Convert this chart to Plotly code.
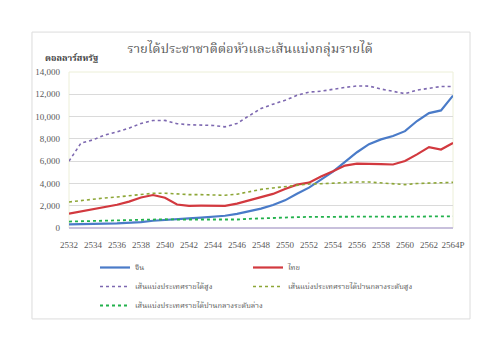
import plotly.graph_objects as go

years = list(range(2532, 2565))
china = [330, 330, 350, 390, 410, 460, 530, 650, 740, 800, 860, 940, 1000, 1100, 1270, 1500,
         1740, 2060, 2480, 3070, 3620, 4340, 5060, 5940, 6800, 7520, 7950, 8250, 8690, 9600,
         10310, 10550, 11880]
thai = [1280, 1490, 1650, 1850, 2090, 2370, 2740, 2960, 2710, 2110, 1990, 2000, 1970, 1990, 2190,
        2500, 2770, 3060, 3500, 3890, 4070, 4630, 5090, 5600, 5780, 5790, 5740, 5700, 6010, 6610,
        7260, 7040, 7640]
high = [6000, 7620, 7910, 8355, 8625, 8955, 9385, 9645, 9655, 9360, 9265, 9265, 9205, 9075, 9385,
        10065, 10725, 11115, 11455, 11905, 12195, 12275, 12475, 12615, 12745, 12735, 12475, 12235,
        12055, 12375, 12535, 12695, 12695]
upper_mid = [2335, 2465, 2555, 2695, 2785, 2895, 3035, 3115, 3125, 3030, 2995, 2995, 2975, 2935,
             3035, 3255, 3465, 3595, 3705, 3855, 3945, 3975, 4035, 4085, 4125, 4125, 4035, 3955,
             3895, 3995, 4045, 4095, 4095]
lower_mid = [580, 610, 635, 675, 695, 725, 765, 785, 785, 760, 755, 755, 745, 735, 765, 825, 875,
             905, 935, 975, 995, 1005, 1025, 1035, 1045, 1045, 1025, 1005, 995, 1025, 1035, 1045, 1045]

tick_vals = list(range(2532, 2565, 2))
tick_text = [str(v) for v in tick_vals[:-1]] + ["2564P"]

names = ["จีน", "ไทย", "เส้นแบ่งประเทศรายได้สูง",
         "เส้นแบ่งประเทศรายได้ปานกลางระดับสูง", "เส้นแบ่งประเทศรายได้ปานกลางระดับล่าง"]

thai_font = "Noto Serif Thai, Noto Sans Thai, Loma, Garuda, Liberation Serif, serif"
serif = "Liberation Serif, Times New Roman, serif"

fig = go.Figure()
fig.add_trace(go.Scatter(x=years, y=china, name=names[0], mode="lines", legend="legend",
                         legendrank=1, line=dict(color="#4A7BC8", width=2.2)))
fig.add_trace(go.Scatter(x=years, y=thai, name=names[1], mode="lines", legend="legend2",
                         legendrank=1, line=dict(color="#D2393F", width=2.2)))
fig.add_trace(go.Scatter(x=years, y=high, name=names[2], mode="lines", legend="legend",
                         legendrank=2, line=dict(color="#7D68B0", width=1.6, dash="dot")))
fig.add_trace(go.Scatter(x=years, y=upper_mid, name=names[3], mode="lines", legend="legend2",
                         legendrank=2, line=dict(color="#8DA637", width=1.6, dash="dot")))
fig.add_trace(go.Scatter(x=years, y=lower_mid, name=names[4], mode="lines", legend="legend",
                         legendrank=3, line=dict(color="#22B14C", width=1.8, dash="dot")))

# card background / border
fig.add_shape(type="rect", xref="paper", yref="paper",
              x0=-0.0964, x1=1.0443, y0=-0.583, y1=1.256,
              line=dict(color="#DCDCDC", width=1), fillcolor="white", layer="below")
# plot area border
fig.add_shape(type="rect", xref="paper", yref="paper", x0=0, x1=1, y0=0, y1=1,
              line=dict(color="#ECEFD8", width=1), layer="below")

leg_common = dict(orientation="v", xref="container", yref="container", yanchor="top",
                  itemwidth=30, tracegroupgap=0, traceorder="normal",
                  font=dict(family=thai_font, size=7.5, color="#595959"),
                  bgcolor="rgba(0,0,0,0)")

fig.update_layout(
    width=500, height=354,
    margin=dict(l=69, r=47, t=72, b=126, autoexpand=False),
    paper_bgcolor="white", plot_bgcolor="white",
    title=dict(text="รายได้ประชาชาติต่อหัวและเส้นแบ่งกลุ่มรายได้",
               x=0.5, xanchor="center", y=1 - 48 / 354, yanchor="middle",
               font=dict(family=thai_font, size=13, color="#595959")),
    showlegend=True,
    legend=dict(x=0.19, xanchor="left", y=1 - 253 / 354, **leg_common),
    legend2=dict(x=0.496, xanchor="left", y=1 - 253 / 354, **leg_common),
    font=dict(family=serif, color="#595959"),
)

fig.add_annotation(text="<b>ดอลลาร์สหรัฐ</b>", xref="paper", yref="paper",
                   x=-0.068, y=1.085, xanchor="left", yanchor="middle", showarrow=False,
                   font=dict(family=thai_font, size=9, color="#404040"))

fig.update_xaxes(range=[2532, 2564], tickvals=tick_vals, ticktext=tick_text,
                 showgrid=False, zeroline=False, showline=False,
                 ticklabelstandoff=10,
                 tickfont=dict(family=serif, size=9, color="#595959"))
fig.update_yaxes(range=[0, 14000], dtick=2000, tickformat=",",
                 showgrid=True, gridcolor="#DADADA", gridwidth=1,
                 zeroline=True, zerolinecolor="#C8C0DC", zerolinewidth=1.5,
                 showline=False, ticklabelstandoff=8,
                 tickfont=dict(family=serif, size=9, color="#595959"))

fig.write_html("out.html")
